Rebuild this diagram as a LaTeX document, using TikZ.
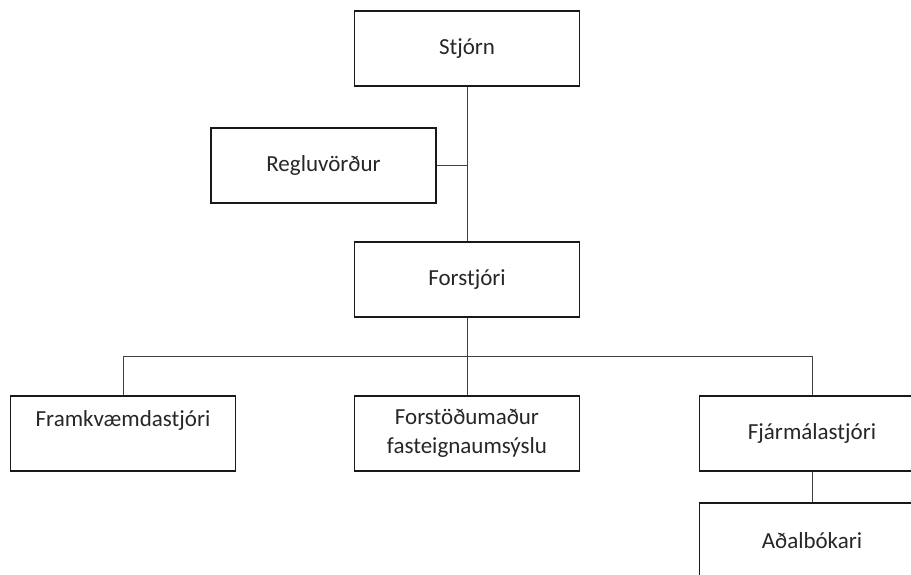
\documentclass[tikz,border=0pt]{standalone}
\usepackage{fontspec}
\setmainfont{Carlito}
\usetikzlibrary{positioning}
\usetikzlibrary{calc}

\begin{document}
\begin{tikzpicture}[x=1pt, y=-1pt,
			box/.style = {
				draw=black!90, line width=1.3pt, minimum width=225pt,
				minimum height=75pt, inner sep=2pt, align=center,
				text=black!85, font=\fontsize{23}{29}\selectfont
			},
			conn/.style = {
				draw=black!75, line width=0.9pt
			}]
			\useasboundingbox (0,0) rectangle (911,574);
			\node (stjorn) [box] at (467,48.5) {Stjórn};
			\node (regl) [box] at (323.5,165.5) {Regluvörður};
			\node (forst) [box] at (467,279.5) {Forstjóri};
			\node (fasteign) [box] at (467,433.5) {Forstöðumaður\\fasteignaumsýslu};
			\node (framkv) [box] at (123,433.5) {Framkvæmdastjóri\\\mbox{}};
			\node (fjarm) [box] at (812,433.5) {Fjármálastjóri};
			\node (adalb) [box] at (812,540.5) {Aðalbókari};
			% tengilinur
			\coordinate (bus) at ($(forst.south)!0.5!(fasteign.north)$);
			\draw [conn] (stjorn) -- (forst);
			\draw [conn] (regl) -- (regl -| stjorn);
			\draw [conn] (forst) -- (fasteign);
			\draw [conn] (framkv.north) |- (bus) -| (fjarm.north);
			\draw [conn] (fjarm) -- (adalb);
		\end{tikzpicture}
\end{document}
